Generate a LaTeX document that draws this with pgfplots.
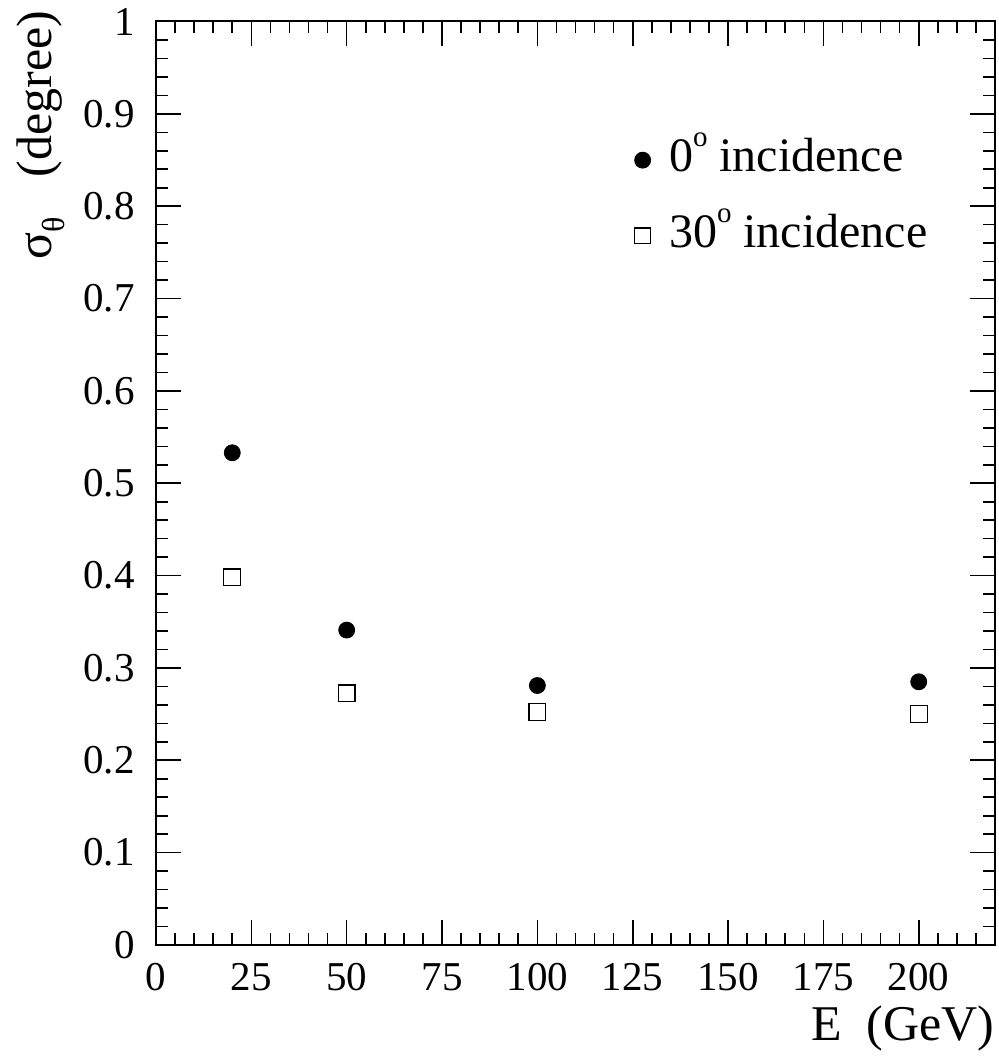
\documentclass[border=0pt]{standalone}
\usepackage{fontspec}
\setmainfont{Liberation Serif}
\usepackage{pgfplots}
\pgfplotsset{compat=1.18}
\newcommand{\degsup}{\raisebox{12.5pt}{\fontsize{14.5}{14.5}\selectfont o}}
\pgfplotsset{
  leglimgc/.style={legend image code/.code={\draw[##1] plot coordinates {(0pt,-3pt)}; \path (-5pt,0pt) (11pt,0pt);}},
  leglimgs/.style={legend image code/.code={\draw[##1, mark size=3.9pt] plot coordinates {(0pt,-3pt)}; \path (-5pt,0pt) (11pt,0pt);}},
}
\begin{document}
\begin{tikzpicture}
\begin{axis}[
  at={(0,0)}, anchor=south west,
  scale only axis, width=419.5pt, height=461.75pt,
  xmin=0, xmax=220, ymin=0, ymax=1,
  xtick={0,25,...,200},
  minor xtick={0,5,...,220},
  ytick={0,0.1,0.2,0.3,0.4,0.5,0.6,0.7,0.8,0.9,1},
  minor ytick={0.02,0.04,0.06,0.08,0.12,0.14,0.16,0.18,0.22,0.24,0.26,0.28,0.32,0.34,0.36,0.38,0.42,0.44,0.46,0.48,0.52,0.54,0.56,0.58,0.62,0.64,0.66,0.68,0.72,0.74,0.76,0.78,0.82,0.84,0.86,0.88,0.92,0.94,0.96,0.98},
  tick align=inside, tick pos=both,
  major tick length=12.5pt, minor tick length=6pt,
  axis line style={line width=1pt},
  every tick/.style={line width=0.8pt, black},
  /pgf/number format/assume math mode=true,
  yticklabel style={/pgf/number format/fixed, /pgf/number format/precision=1, inner sep=0pt, xshift=-10.5pt},
  xticklabel style={inner sep=0pt, yshift=-9pt},
  tick label style={font=\fontsize{20.5}{24}\selectfont},
  xlabel={E\hspace{0.5em}(GeV)},
  ylabel={σ\raisebox{-6.5pt}{\fontsize{16}{16}\selectfont θ}\hspace{0.8em}(degree)},
  label style={font=\fontsize{25}{30}\selectfont, inner sep=0pt},
  xlabel style={at={(axis description cs:1,-0.103)}, anchor=base east},
  ylabel style={at={(axis description cs:-0.125,1.012)}, anchor=base east},
  legend style={at={(axis description cs:0.560,0.888)}, anchor=north west, draw=none, fill=none,
    font=\fontsize{24}{28}\selectfont, row sep=13pt, nodes={inner sep=2pt}},
  legend cell align=left,
]
\addplot[only marks, mark=*, mark size=4pt, black, leglimgc] coordinates {
  (20,0.533) (50,0.341) (100,0.281) (200,0.285)
};
\addlegendentry{0\degsup\ incidence}
\addplot[only marks, mark=square, mark size=4.2pt, black, mark options={line width=0.6pt}, leglimgs] coordinates {
  (20,0.398) (50,0.2725) (100,0.2526) (200,0.250)
};
\addlegendentry{30\degsup\ incidence}
\end{axis}
\pgfresetboundingbox
\path (-78pt,-57pt) rectangle (421.5pt,472.5pt);
\end{tikzpicture}
\end{document}
